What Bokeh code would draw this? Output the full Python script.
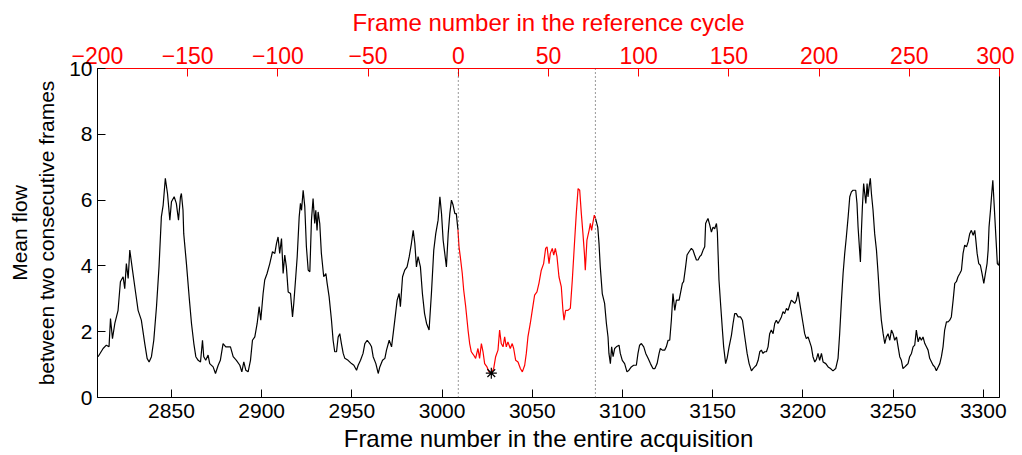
import numpy as np
from bokeh.plotting import figure
from bokeh.models import Range1d, LinearAxis, Span, FixedTicker, CustomJSTickFormatter
from bokeh.embed import file_html
from bokeh.resources import INLINE

# ---------------- data ----------------
frames = [
    2809.3, 2812.1, 2813.9, 2815.4, 2816.2, 2817.3, 2818.6, 2820.4, 2821.7, 2823.2,
    2824.1, 2825.0, 2826.0, 2826.9, 2828.4, 2830.2, 2831.5, 2833.3, 2835.2, 2836.5,
    2837.6, 2838.9, 2840.2, 2841.7, 2843.1, 2844.4, 2845.4, 2846.6, 2847.8, 2849.1,
    2850.0, 2851.5, 2852.7, 2853.9, 2855.0, 2855.5, 2856.4, 2856.8, 2858.3, 2859.8,
    2861.1, 2862.4, 2863.5, 2864.8, 2866.1, 2867.2, 2867.9, 2869.0, 2870.3, 2871.2,
    2873.1, 2874.4, 2875.9, 2877.1, 2878.6, 2880.1, 2881.4, 2882.7, 2884.2, 2886.0,
    2887.9, 2889.0, 2890.1, 2891.2, 2892.5, 2893.8, 2894.9, 2896.2, 2897.5, 2898.6,
    2899.5, 2900.8, 2901.7, 2903.0, 2904.5, 2906.0, 2907.3,
    2908.2, 2909.1, 2910.0, 2911.0, 2911.9, 2912.8, 2913.7, 2914.7, 2916.0, 2917.1,
    2917.8, 2918.9, 2919.7, 2920.8, 2921.5, 2922.1, 2923.0, 2923.9, 2924.8, 2925.8,
    2926.7, 2927.6, 2928.5, 2929.4, 2930.0, 2930.7, 2931.3, 2932.2, 2933.1, 2934.4,
    2935.6, 2936.3, 2937.4, 2938.7, 2939.6, 2940.5, 2941.5, 2942.4, 2943.3, 2944.2,
    2945.2, 2946.1, 2947.9, 2949.8, 2951.1, 2952.6, 2953.5, 2954.8, 2956.2, 2957.2,
    2958.5, 2959.9, 2960.9, 2961.8, 2963.3, 2964.6, 2965.5, 2967.0, 2968.3, 2969.2,
    2970.7, 2972.0, 2972.9, 2973.8, 2975.1, 2976.2, 2976.9, 2978.1, 2979.3, 2980.6,
    2981.8, 2983.0, 2984.0, 2984.9, 2985.8, 2986.7, 2988.0, 2989.1, 2990.3, 2991.4,
    2992.8, 2994.1, 2995.4, 2996.5, 2997.8, 2998.8, 2999.7, 3000.6, 3001.5, 3002.4,
    3003.4, 3004.3, 3005.2, 3006.1, 3007.1, 3007.9,
    3008.8, 3009.4, 3010.1, 3011.2, 3012.0, 3013.1, 3014.4, 3015.3, 3016.2, 3017.5,
    3018.6, 3019.9, 3020.8, 3021.8, 3022.7, 3023.6, 3024.9, 3026.0, 3027.3, 3028.6,
    3029.7, 3031.0, 3031.9, 3032.8, 3033.8, 3034.7, 3035.6, 3036.5, 3037.8, 3038.9,
    3039.7, 3040.8, 3042.1, 3043.4, 3044.5, 3045.8, 3046.7, 3047.6, 3048.9, 3050.0,
    3051.3, 3052.6, 3053.7, 3055.0, 3056.3, 3057.4, 3058.2, 3059.3, 3060.0, 3061.1,
    3061.9, 3062.8, 3063.7, 3064.8, 3066.1, 3067.0, 3067.6, 3068.5, 3069.8, 3071.1,
    3072.2, 3073.5, 3074.4, 3075.4, 3076.3, 3077.2, 3078.1, 3078.9, 3079.4, 3080.3,
    3081.5, 3082.2, 3082.9, 3083.7, 3084.4, 3085.1,
    3086.3, 3087.0, 3087.7, 3088.8, 3090.1, 3091.1, 3092.0, 3092.5, 3093.3, 3094.0,
    3094.8, 3095.7, 3096.6, 3098.1, 3098.8, 3099.9, 3101.2, 3102.5, 3103.6, 3104.9,
    3106.2, 3107.7,
    3108.6, 3109.5, 3110.5, 3111.8, 3112.9, 3114.2, 3115.5, 3116.9, 3118.0, 3119.2,
    3120.3, 3121.0, 3122.1, 3123.4, 3124.3, 3125.3, 3126.2, 3127.1, 3128.0, 3129.0,
    3129.9, 3131.4, 3132.1, 3133.2, 3133.9, 3135.0, 3135.8, 3136.9, 3138.2, 3139.1,
    3140.0, 3141.0, 3141.9, 3142.8, 3143.7, 3144.7, 3145.6, 3146.1, 3146.9, 3147.4,
    3148.4, 3149.3, 3150.2, 3151.1, 3152.1, 3152.6, 3153.5, 3154.5, 3155.4, 3156.1,
    3157.2, 3158.0, 3159.1, 3160.4, 3161.3, 3162.2, 3163.1, 3164.1, 3165.4, 3166.5,
    3167.8, 3169.1, 3170.2, 3171.5, 3172.4, 3173.3, 3174.2, 3175.2, 3176.1, 3177.0,
    3177.9, 3178.8, 3179.8, 3180.7, 3181.6, 3182.5, 3183.5, 3184.4, 3185.3, 3186.2,
    3187.2, 3188.1, 3189.0, 3189.9, 3190.9, 3191.8, 3192.7, 3193.6, 3194.6, 3195.5,
    3196.4, 3197.3, 3198.3, 3199.2, 3200.1, 3201.0, 3201.9, 3202.9, 3203.8, 3204.7,
    3205.6, 3206.6, 3207.5,
    3208.4, 3209.3, 3210.3, 3211.2, 3212.7, 3214.0, 3215.3, 3216.7, 3218.2, 3219.5,
    3220.4, 3221.4, 3222.3, 3223.2, 3224.1, 3225.1, 3226.0, 3226.9, 3227.8, 3229.3,
    3230.0, 3230.6, 3231.2, 3231.9, 3232.4, 3233.0, 3233.7, 3234.3, 3234.9, 3235.6,
    3236.1, 3236.7, 3237.4, 3238.0, 3238.9, 3239.8, 3240.8, 3241.7, 3242.6, 3243.5,
    3244.5, 3245.4, 3246.3, 3247.2, 3248.2, 3249.1, 3250.0, 3250.9, 3251.9, 3252.8,
    3253.7, 3254.6, 3255.5, 3256.5, 3257.4, 3258.3, 3259.2, 3260.2, 3261.1, 3262.0,
    3262.9, 3263.9, 3264.8, 3265.7, 3266.6, 3267.6, 3268.5, 3269.4, 3270.3, 3271.3,
    3272.2, 3273.1, 3274.0, 3275.0, 3275.9, 3276.8, 3277.7, 3278.6, 3279.6, 3280.5,
    3281.4, 3282.3, 3283.3, 3284.2, 3285.1, 3286.0, 3287.0, 3287.9, 3288.8, 3289.7,
    3290.7, 3291.6, 3292.5, 3293.4, 3294.4, 3295.3, 3295.8, 3296.6, 3297.5, 3298.4,
    3299.3, 3300.3, 3301.2, 3302.1, 3302.7, 3303.2, 3304.0, 3304.7, 3305.3, 3306.0,
    3306.7, 3307.3, 3307.8, 3308.6, 3309.3, 3309.7,
]

flow = [
    1.24, 1.49, 1.59, 1.54, 2.40, 1.79, 2.25, 2.65, 3.52, 3.67,
    3.31, 4.07, 3.62, 4.48, 3.87, 3.16, 2.65, 2.35, 1.64, 1.19,
    1.08, 1.24, 1.74, 2.76, 3.97, 5.49, 5.85, 6.66, 6.20, 5.39,
    5.95, 6.10, 5.90, 5.39, 6.10, 6.20, 5.69, 4.98, 4.07, 3.06,
    2.25, 1.64, 1.24, 1.13, 1.08, 1.74, 1.24, 1.13, 1.29, 1.03,
    0.93, 0.73, 0.98, 1.13, 1.64, 1.54, 1.54, 1.54, 1.24, 1.13,
    0.98, 0.78, 1.08, 0.83, 0.78, 1.13, 1.74, 1.84, 2.25, 2.76,
    2.35, 3.16, 3.57, 3.77, 4.07, 4.43, 4.38,
    4.68, 4.88, 4.38, 4.83, 3.77, 4.33, 3.97, 3.21, 3.16, 2.45,
    2.86, 3.67, 4.28, 5.49, 5.90, 5.69, 6.30, 5.80, 4.58, 3.87,
    3.82, 5.39, 6.05, 5.29, 5.69, 5.08, 5.64, 5.29, 4.38, 3.67,
    3.77, 3.47, 3.06, 2.35, 1.74, 1.39, 1.39, 1.84, 1.94, 1.64,
    1.34, 1.19, 1.13, 1.03, 0.98, 0.83, 0.98, 1.13, 1.34, 1.64,
    1.74, 1.64, 1.54, 1.24, 1.03, 0.73, 0.93, 1.13, 1.19, 1.44,
    1.74, 1.54, 1.94, 2.35, 2.96, 3.16, 2.76, 3.67, 3.87, 3.97,
    4.28, 4.68, 5.08, 4.68, 3.97, 4.28, 3.97, 3.16, 2.55, 2.25,
    2.05, 3.16, 4.48, 4.98, 5.39, 6.10, 5.59, 4.78, 4.38, 3.97,
    4.98, 5.59, 6.00, 5.85, 5.59, 5.59,
    5.10, 4.58, 4.28, 3.77, 3.26, 2.76, 2.05, 1.64, 1.39, 1.29,
    1.19, 1.49, 1.19, 1.64, 1.39, 1.03, 0.93, 0.78, 0.74, 0.88,
    1.24, 1.44, 2.05, 1.64, 1.54, 1.84, 1.54, 1.69, 1.49, 1.64,
    1.49, 1.13, 1.08, 0.88, 0.78, 0.98, 1.34, 1.84, 2.25, 2.65,
    3.11, 3.21, 3.47, 3.87, 4.07, 4.53, 4.58, 4.07, 4.38, 4.53,
    4.33, 4.53, 4.28, 3.67, 3.36, 2.65, 2.35, 2.65, 2.65, 2.71,
    3.57, 4.78, 5.59, 6.35, 6.30, 5.59, 4.98, 4.38, 3.87, 4.78,
    5.08, 5.29, 5.08, 5.34, 5.54, 5.44,
    5.18, 4.68, 3.97, 3.16, 2.86, 2.25, 1.84, 1.34, 1.03, 1.54,
    1.24, 1.49, 1.54, 1.59, 1.34, 1.13, 1.03, 0.78, 0.83, 0.93,
    0.98, 0.98,
    1.34, 1.59, 1.64, 1.54, 1.34, 1.19, 1.03, 0.88, 0.88, 1.03,
    1.34, 1.49, 1.44, 1.44, 1.54, 1.74, 1.74, 2.35, 3.16, 2.65,
    2.96, 2.96, 3.16, 3.47, 3.52, 3.97, 4.33, 4.43, 4.53, 4.48,
    4.33, 4.18, 4.18, 4.28, 4.33, 4.48, 4.58, 5.29, 5.39, 5.44,
    5.24, 5.03, 5.18, 5.13, 5.29, 5.03, 3.57, 2.76, 2.05, 1.54,
    1.03, 1.19, 1.54, 1.89, 2.25, 2.55, 2.55, 2.45, 2.45, 2.35,
    1.84, 1.34, 1.03, 0.81, 0.88, 0.93, 0.98, 1.13, 1.39, 1.44,
    1.34, 1.39, 1.39, 1.54, 1.94, 2.05, 1.94, 2.25, 2.35, 2.25,
    2.35, 2.45, 2.61, 2.55, 2.71, 2.65, 2.81, 2.96, 2.91, 2.86,
    2.96, 3.21, 2.86, 2.55, 2.25, 1.94, 1.79, 1.84, 1.69, 1.54,
    1.24, 1.08, 1.16,
    1.34, 1.13, 1.34, 1.08, 1.03, 0.93, 0.88, 0.81, 0.88, 1.19,
    1.94, 2.96, 3.77, 4.38, 4.88, 5.49, 6.10, 6.25, 6.30, 6.30,
    5.90, 5.18, 4.68, 4.12, 4.98, 5.80, 6.50, 6.20, 5.90, 6.50,
    6.10, 6.40, 6.66, 6.20, 5.69, 4.98, 4.48, 3.77, 2.96, 2.35,
    1.94, 1.64, 1.84, 1.94, 1.74, 2.05, 1.94, 1.74, 1.84, 1.54,
    1.24, 1.13, 0.88, 0.93, 0.98, 1.03, 1.24, 1.34, 1.54, 1.59,
    2.05, 1.69, 1.84, 1.74, 1.84, 1.64, 1.54, 1.44, 1.19, 1.08,
    0.98, 0.93, 0.81, 0.93, 1.03, 1.24, 1.54, 2.05, 2.30, 2.30,
    2.35, 2.45, 2.96, 3.47, 3.52, 3.67, 3.77, 3.87, 4.38, 4.63,
    4.58, 4.73, 4.98, 5.08, 4.93, 5.08, 4.83, 4.38, 4.07, 4.02,
    3.77, 3.47, 3.77, 4.07, 4.48, 5.18, 5.69, 6.20, 6.60, 5.90,
    5.18, 4.58, 4.07, 4.02, 4.28, 4.02,
]

CYCLE_OFFSET = 3009          # frame of reference-cycle frame 0
CYCLE_MARKS = [0, 76]        # cycle start / end (reference-cycle frames)
BOTTOM_TICKS = [2850, 2900, 2950, 3000, 3050, 3100, 3150, 3200, 3250, 3300]
TOP_TICKS = [-200, -150, -100, -50, 0, 50, 100, 150, 200, 250, 300]
Y_TICKS = [0, 2, 4, 6, 8, 10]
X_RANGE = (2809, 3309)
Y_RANGE = (0, 10)

RED = "#ff0000"
FONT = "Liberation Sans"

f = np.array(frames)
v = np.array(flow)
c0 = CYCLE_OFFSET + CYCLE_MARKS[0]
c1 = CYCLE_OFFSET + CYCLE_MARKS[1]
left_mask = f <= c0
red_mask = (f >= c0 - 0.5) & (f <= c1 + 0.5)
right_mask = f >= c1

p = figure(
    frame_width=902, frame_height=329,
    x_range=Range1d(*X_RANGE), y_range=Range1d(*Y_RANGE),
    output_backend="svg", toolbar_location=None,
    min_border_left=97, min_border_right=15, min_border_top=68, min_border_bottom=56,
    background_fill_color="white", border_fill_color="white",
)
p.extra_x_ranges = {"cycle": Range1d(X_RANGE[0] - CYCLE_OFFSET, X_RANGE[1] - CYCLE_OFFSET)}
p.xgrid.visible = False
p.ygrid.visible = False
p.outline_line_color = "black"
p.outline_line_width = 1

def style_axis(ax, color, tick_size, label_size):
    ax.axis_line_color = color
    ax.major_tick_line_color = color
    ax.major_tick_in = 8
    ax.major_tick_out = 0
    ax.minor_tick_in = 0
    ax.minor_tick_out = 0
    ax.major_label_text_color = color
    ax.major_label_text_font = FONT
    ax.major_label_text_font_size = tick_size
    ax.axis_label_text_color = color
    ax.axis_label_text_font = FONT
    ax.axis_label_text_font_size = label_size
    ax.axis_label_text_font_style = "normal"

xb = p.xaxis[0]
xb.ticker = FixedTicker(ticks=BOTTOM_TICKS)
xb.axis_label = "Frame number in the entire acquisition"
style_axis(xb, "black", "21px", "24px")
xb.major_label_standoff = 6
xb.axis_label_standoff = 4

yl = p.yaxis[0]
yl.ticker = FixedTicker(ticks=Y_TICKS)
yl.axis_label = "Mean flow\nbetween two consecutive frames"
style_axis(yl, "black", "21px", "21px")
yl.major_label_standoff = 5
yl.axis_label_standoff = 8

xt = LinearAxis(
    x_range_name="cycle",
    ticker=FixedTicker(ticks=TOP_TICKS),
    formatter=CustomJSTickFormatter(code="return tick < 0 ? '\u2212' + Math.abs(tick) : String(tick);"),
    axis_label="Frame number in the reference cycle",
)
style_axis(xt, RED, "23px", "24px")
xt.major_label_standoff = 5
xt.axis_label_standoff = 8
p.add_layout(xt, "above")

for m in CYCLE_MARKS:
    p.add_layout(Span(location=m, dimension="height", x_range_name="cycle",
                      line_color="#333333", line_width=1, line_dash="1 3"))

p.line(f[left_mask], v[left_mask], line_color="black", line_width=1.2)
p.line(f[right_mask], v[right_mask], line_color="black", line_width=1.2)
p.line(f[red_mask], v[red_mask], line_color=RED, line_width=1.2)

rf, rv = f[red_mask], v[red_mask]
i = int(np.argmin(rv))
p.scatter([rf[i]], [rv[i]], marker="asterisk", size=11, line_color="black", line_width=1.2)

open("out.html", "w").write(file_html(p, INLINE))
